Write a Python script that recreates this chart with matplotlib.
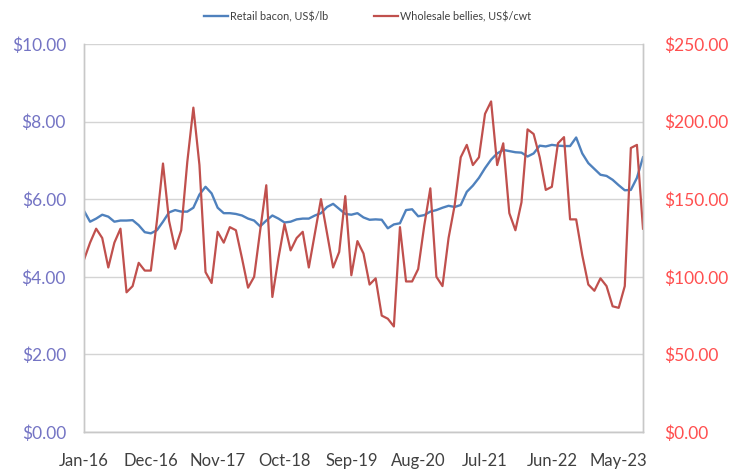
import numpy as np
import matplotlib
matplotlib.use("Agg")
import matplotlib.pyplot as plt

plt.rcParams.update({
    "font.family": ["Lato", "DejaVu Sans"],
})

# monthly values, Jan-16 .. Sep-23
retail_bacon = [
    5.70, 5.42, 5.50, 5.60, 5.55, 5.42, 5.45, 5.45, 5.46, 5.33,
    5.15, 5.12, 5.20, 5.42, 5.66, 5.72, 5.68, 5.68, 5.78, 6.12,
    6.32, 6.15, 5.78, 5.64, 5.64, 5.62, 5.58, 5.50, 5.45, 5.30,
    5.45, 5.58, 5.50, 5.40, 5.42, 5.48, 5.50, 5.50, 5.58, 5.64,
    5.80, 5.88, 5.75, 5.62, 5.60, 5.64, 5.53, 5.47, 5.48, 5.47,
    5.25, 5.35, 5.38, 5.72, 5.74, 5.56, 5.59, 5.68, 5.72, 5.78,
    5.83, 5.80, 5.85, 6.19, 6.35, 6.55, 6.80, 7.02, 7.18, 7.27,
    7.24, 7.21, 7.20, 7.10, 7.18, 7.38, 7.36, 7.40, 7.38, 7.37,
    7.37, 7.59, 7.18, 6.93, 6.78, 6.63, 6.60, 6.50, 6.36, 6.23,
    6.24, 6.55, 7.08,
]
wholesale_bellies = [
    111, 122, 131, 125, 106, 122, 131, 90, 94, 109,
    104, 104, 136, 173, 136, 118, 130, 174, 209, 172,
    103, 96, 129, 122, 132, 130, 112, 93, 100, 130,
    159, 87, 112, 134, 117, 125, 129, 106, 128, 150,
    128, 106, 116, 152, 101, 123, 115, 95, 99, 75,
    73, 68, 132, 97, 97, 105, 133, 157, 100, 94,
    125, 146, 177, 185, 172, 177, 205, 213, 172, 186,
    141, 130, 148, 195, 192, 177, 156, 158, 186, 190,
    137, 137, 114, 95, 91, 99, 94, 81, 80, 94,
    183, 185, 131,
]
tick_labels = ["Jan-16", "Dec-16", "Nov-17", "Oct-18", "Sep-19",
               "Aug-20", "Jul-21", "Jun-22", "May-23"]
left_ticks = [0, 2, 4, 6, 8, 10]
right_ticks = [0, 50, 100, 150, 200, 250]

x = np.arange(len(retail_bacon))

fig = plt.figure(figsize=(7.35, 4.70), dpi=100)
ax = fig.add_axes([84 / 735, 1 - 432 / 470, (643 - 84) / 735, (432 - 44) / 470])
ax2 = ax.twinx()

l1, = ax.plot(x, retail_bacon, color="#4F81BD", lw=1.7, label="Retail bacon, US$/lb")
l2, = ax2.plot(x, wholesale_bellies, color="#C0504D", lw=1.6, label="Wholesale bellies, US$/cwt")

ax.set_xlim(0, len(x) - 1)
ax.set_ylim(0, 10)
ax2.set_ylim(0, 250)

ax.set_yticks(left_ticks)
ax.set_yticklabels([f"${v:.2f}" for v in left_ticks])
ax2.set_yticks(right_ticks)
ax2.set_yticklabels([f"${v:.2f}" for v in right_ticks])
ax.set_xticks(x[::11][:len(tick_labels)])
ax.set_xticklabels(tick_labels)

ax.grid(axis="y", color="#D4D4D4", lw=1.0)
ax.set_axisbelow(True)

for a in (ax, ax2):
    a.spines["top"].set_visible(False)
    for s in ("left", "right", "bottom"):
        a.spines[s].set_color("#C8C8C8")
        a.spines[s].set_linewidth(1.0)

ax.tick_params(axis="y", length=0, pad=13, labelsize=12.5, labelcolor="#7474C4")
ax2.tick_params(axis="y", length=0, pad=15, labelsize=12.5, labelcolor="#FF4F4F")
ax.tick_params(axis="x", length=0, pad=15, labelsize=12, labelcolor="#404040")

fig.legend(handles=[l1, l2], loc="center", bbox_to_anchor=(0.5, 0.965),
           ncol=2, frameon=False, fontsize=7.8, handlelength=2.2,
           handletextpad=0.2, columnspacing=4.2, labelcolor="#404040")

fig.savefig("out.png", dpi=100)
